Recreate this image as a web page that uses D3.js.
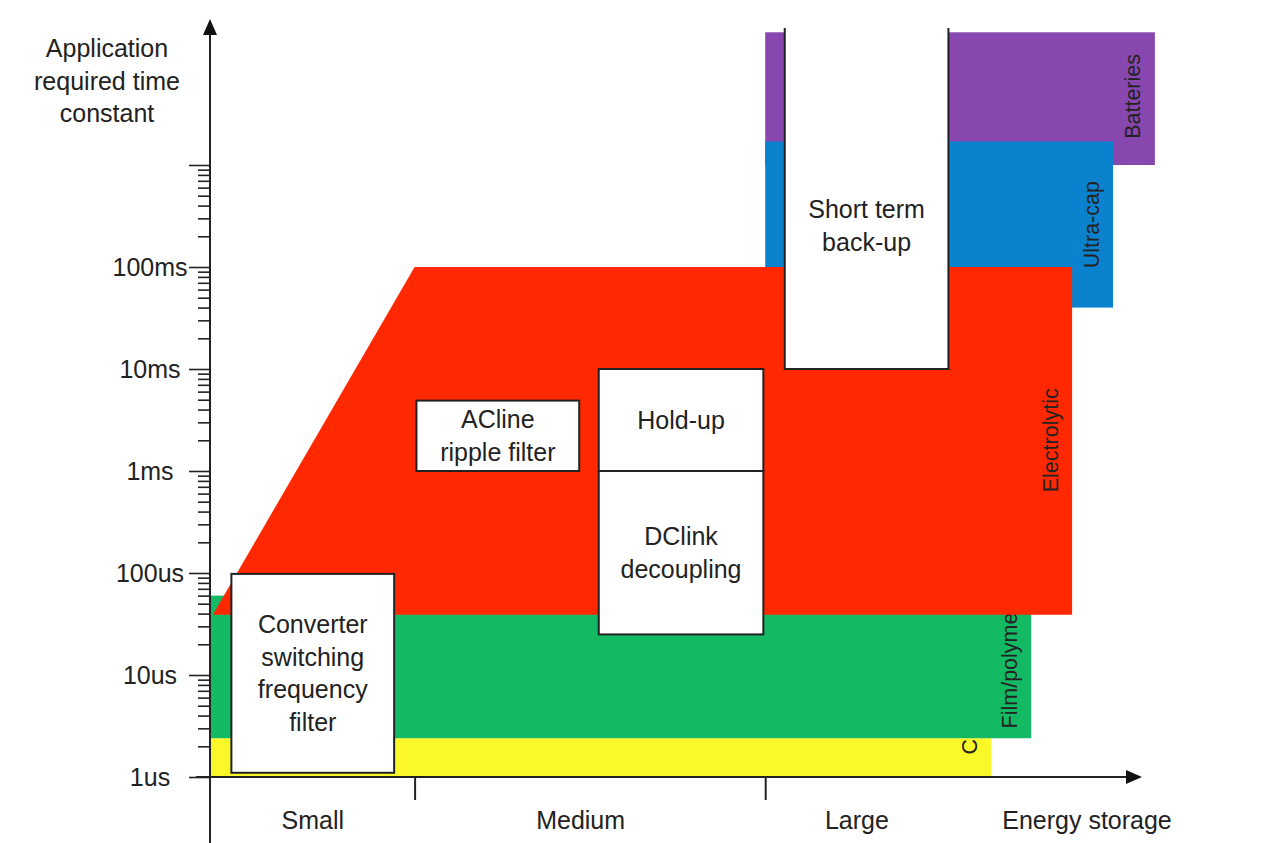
<!DOCTYPE html>
<html>
<head>
<meta charset="utf-8">
<title>Capacitor technologies vs application time constant</title>
<style>
  body { margin: 0; background: #fff; }
  svg text { font-family: "Liberation Sans", Arial, sans-serif; fill: #222; }
</style>
</head>
<body>
<div id="chart"></div>
<script src="https://d3js.org/d3.v7.min.js"></script>
<script>
// x: relative energy storage (0..100 along the arrow), y: time constant in seconds
var categories    = ["Small", "Medium", "Large"];
var categoryEdges = [22, 59.7];
var categoryMids  = [11, 39.8, 69.5];

var yMajor      = [1e-6, 1e-5, 1e-4, 1e-3, 1e-2, 1e-1, 1];
var yTickLabels = ["1us", "10us", "100us", "1ms", "10ms", "100ms", ""];

// storage technologies (drawn in this order, electrolytic on top)
var techNames  = ["Batteries", "Ultra-cap", "Ceramic", "Film/polymer"];
var techX      = [[59.7, 101.6], [59.7, 97.1], [0, 84], [0, 88.3]];
var techT      = [[1, 20], [0.04, 1.7], [1e-6, 2.4e-6], [2.4e-6, 60e-6]];
var techLabelT = [4.7, 0.26, 4.1e-6, 12e-6];

var electroName   = "Electrolytic";
var electroX      = [0.3, 22, 92.7, 92.7];
var electroT      = [39e-6, 0.1, 0.1, 39e-6];
var electroLabelT = 2e-3;

// applications (white boxes)
var appNames = [["Converter", "switching", "frequency", "filter"],
                ["ACline", "ripple filter"],
                ["Hold-up"],
                ["DClink", "decoupling"],
                ["Short term", "back-up"]];
var appX     = [[2.3, 19.8], [22.2, 39.7], [41.8, 59.5], [41.8, 59.5], [61.8, 79.4]];
var appT     = [[1.1e-6, 98e-6], [1e-3, 4.9e-3], [1e-3, 1e-2], [25e-6, 1e-3], [1e-2, 22]];
var appTextT = [null, null, null, null, 0.255];

var yTitle = ["Application", "required time", "constant"];
var xTitle = "Energy storage";

var techColors = ["#8846AF", "#0A82CD", "#FAF828", "#14B964"];
var electroColor = "#FF2800";

var W = 1280, H = 843;
var svg = d3.select("#chart").append("svg").attr("width", W).attr("height", H);

var x = d3.scaleLinear().domain([0, 100]).range([210, 1140]);
var y = d3.scaleLog().domain([1e-6, 1]).range([777, 165]);

// technology areas
techNames.forEach(function(name, i) {
  var x0 = x(techX[i][0]), x1 = x(techX[i][1]);
  var y0 = y(techT[i][1]), y1 = y(techT[i][0]);
  svg.append("rect")
    .attr("x", x0).attr("y", y0)
    .attr("width", x1 - x0).attr("height", y1 - y0)
    .attr("fill", techColors[i]);
  svg.append("text")
    .attr("transform", "translate(" + (x1 - 22) + "," + y(techLabelT[i]) + ")rotate(-90)")
    .attr("text-anchor", "middle").attr("dy", "0.35em")
    .style("font-size", "21.5px")
    .text(name);
});

svg.append("polygon")
  .attr("points", electroX.map(function(d, i) { return x(d) + "," + y(electroT[i]); }).join(" "))
  .attr("fill", electroColor);
svg.append("text")
  .attr("transform", "translate(" + (x(d3.max(electroX)) - 22) + "," + y(electroLabelT) + ")rotate(-90)")
  .attr("text-anchor", "middle").attr("dy", "0.35em")
  .style("font-size", "21.5px")
  .text(electroName);

// application boxes
appNames.forEach(function(lines, i) {
  var x0 = x(appX[i][0]), x1 = x(appX[i][1]);
  var y0 = y(appT[i][1]), y1 = y(appT[i][0]);
  var open = (i == appNames.length - 1);
  svg.append("rect")
    .attr("x", x0).attr("y", y0)
    .attr("width", x1 - x0).attr("height", y1 - y0)
    .attr("fill", "#fff")
    .attr("stroke", open ? "none" : "#222")
    .attr("stroke-width", 2);
  if (open) {
    svg.append("path")
      .attr("d", "M" + x0 + "," + y0 + "V" + y1 + "H" + x1 + "V" + y0)
      .attr("fill", "none").attr("stroke", "#222").attr("stroke-width", 2);
  }
  var cy = appTextT[i] ? y(appTextT[i]) : (y0 + y1) / 2;
  var lh = 32.5;
  var t = svg.append("text")
    .attr("text-anchor", "middle")
    .style("font-size", "25px");
  lines.forEach(function(s, k) {
    t.append("tspan")
      .attr("x", (x0 + x1) / 2)
      .attr("y", cy + (k - (lines.length - 1) / 2) * lh)
      .attr("dy", "0.35em")
      .text(s);
  });
});

// y axis
var yTicks = [];
yMajor.forEach(function(d, i) {
  yTicks.push(d);
  if (i < yMajor.length - 1) for (var k = 2; k <= 9; k++) yTicks.push(d * k);
});

var gY = svg.append("g")
  .attr("transform", "translate(" + x(0) + ",0)")
  .call(d3.axisLeft(y).tickValues(yTicks).tickSize(12)
    .tickFormat(function(d) {
      var j = yMajor.indexOf(d);
      return j >= 0 ? yTickLabels[j] : "";
    }));
gY.select(".domain").remove();
gY.selectAll(".tick line")
  .attr("stroke", "#222").attr("stroke-width", 1.6)
  .attr("x2", function(d) { return yMajor.indexOf(d) >= 0 ? -21 : -12; });
gY.selectAll(".tick text")
  .attr("x", -60).attr("text-anchor", "middle")
  .style("font-size", "25px").style("font-family", "Liberation Sans, Arial, sans-serif")
  .attr("fill", "#222");

svg.append("line")
  .attr("x1", x(0)).attr("x2", x(0)).attr("y1", 843).attr("y2", 32)
  .attr("stroke", "#222").attr("stroke-width", 2);
svg.append("path")
  .attr("d", "M" + x(0) + ",19L" + (x(0) - 7) + ",35L" + (x(0) + 7) + ",35Z")
  .attr("fill", "#111");

var tt = svg.append("text").attr("text-anchor", "middle").style("font-size", "25px");
yTitle.forEach(function(s, k) {
  tt.append("tspan").attr("x", 107).attr("y", 57 + k * 32.5).text(s);
});

// x axis
svg.append("line")
  .attr("x1", 196).attr("x2", x(100) - 12).attr("y1", y(1e-6)).attr("y2", y(1e-6))
  .attr("stroke", "#222").attr("stroke-width", 2);
svg.append("path")
  .attr("d", "M" + (x(100) + 2) + "," + y(1e-6) + "L" + (x(100) - 14) + "," + (y(1e-6) - 7) +
             "L" + (x(100) - 14) + "," + (y(1e-6) + 7) + "Z")
  .attr("fill", "#111");

var gX = svg.append("g")
  .attr("transform", "translate(0," + y(1e-6) + ")")
  .call(d3.axisBottom(x).tickValues(categoryEdges).tickSize(23).tickFormat(""));
gX.select(".domain").remove();
gX.selectAll(".tick line").attr("stroke", "#222").attr("stroke-width", 2);

var gXL = svg.append("g")
  .attr("transform", "translate(0," + y(1e-6) + ")")
  .call(d3.axisBottom(x).tickValues(categoryMids).tickSize(0).tickPadding(34)
    .tickFormat(function(d, i) { return categories[i]; }));
gXL.select(".domain").remove();
gXL.selectAll(".tick text")
  .style("font-size", "25px").style("font-family", "Liberation Sans, Arial, sans-serif")
  .attr("fill", "#222");

svg.append("text")
  .attr("x", 1087).attr("y", 829)
  .attr("text-anchor", "middle")
  .style("font-size", "25px")
  .text(xTitle);
</script>
</body>
</html>
